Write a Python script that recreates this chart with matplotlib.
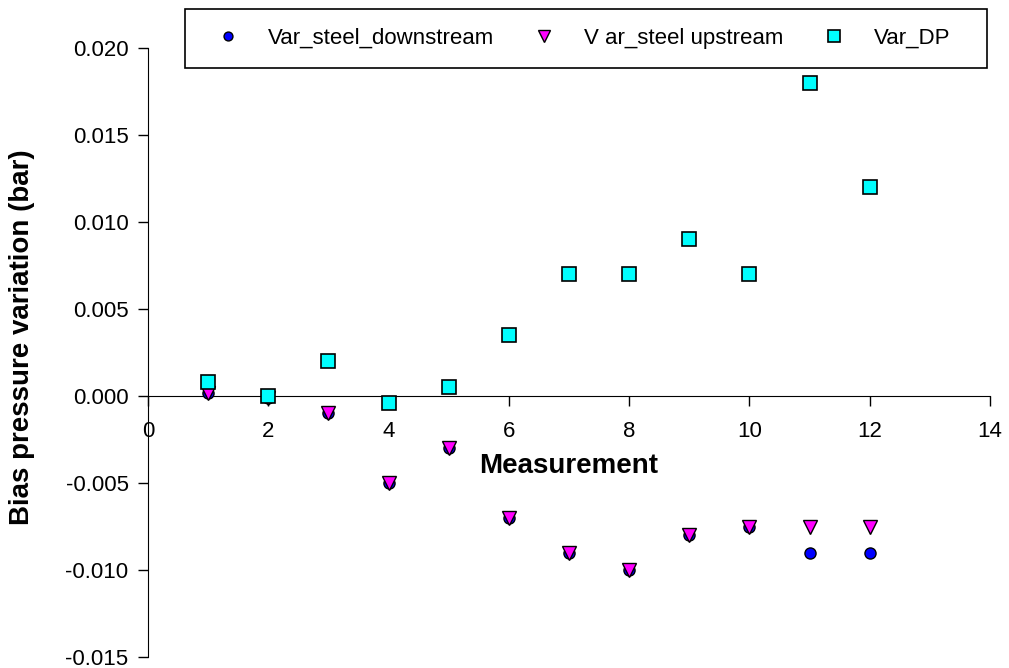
import numpy as np
import matplotlib.pyplot as plt
from matplotlib.patches import Rectangle

plt.rcParams['font.family'] = ['Liberation Sans', 'DejaVu Sans']

# measurement index
meas = np.arange(1, 13)

# bias pressure variation (bar)
var_down = [0.0002, -0.0001, -0.001, -0.005, -0.003, -0.007, -0.009, -0.010, -0.008, -0.0075, -0.009, -0.009]
var_up = [0.0002, -0.0001, -0.001, -0.005, -0.003, -0.007, -0.009, -0.010, -0.008, -0.0075, -0.0075, -0.0075]
var_dp = [0.0008, 0.0, 0.002, -0.0004, 0.0005, 0.0035, 0.007, 0.007, 0.009, 0.007, 0.018, 0.012]

W, H = 1009, 668
fig = plt.figure(figsize=(W/100, H/100), dpi=100)
ax = fig.add_axes([148/W, 11/H, 842/W, 609/H])

ax.plot(meas, var_down, 'o', color='#0000ff', mec='black', mew=1, ms=8, label='Var_steel_downstream', zorder=3)
ax.plot(meas, var_up, 'v', color='#ff00ff', mec='black', mew=1, ms=10, label='V ar_steel upstream', zorder=4)
ax.plot(meas, var_dp, 's', color='#00ffff', mec='black', mew=1.2, ms=10, label='Var_DP', zorder=5)

ax.set_xlim(0, 14)
ax.set_ylim(-0.015, 0.020)
ax.set_xticks(np.arange(0, 15, 2))
ax.set_yticks(np.arange(-0.015, 0.0201, 0.005))
ax.yaxis.set_major_formatter(plt.FuncFormatter(lambda v, p: '%.3f' % v))

ax.spines['top'].set_visible(False)
ax.spines['right'].set_visible(False)
ax.spines['bottom'].set_position(('data', 0))
ax.tick_params(axis='both', direction='out', length=7, labelsize=16, width=1)
ax.tick_params(axis='x', pad=11)
ax.tick_params(axis='y', pad=7)

ax.set_ylabel('Bias pressure variation (bar)', fontsize=20, fontweight='bold')
ax.yaxis.set_label_coords(-0.134, 0.525)
ax.text(7, -0.0040, 'Measurement', fontsize=20, fontweight='bold', ha='center', va='center')

# legend box spans past the plot area
fig.patches.append(Rectangle((185/W, 1 - 68/H), 802/W, 59/H, transform=fig.transFigure,
                             facecolor='white', edgecolor='black', lw=1.2, zorder=10))
fig.legend(loc='center left', bbox_to_anchor=(217/W, 1 - 38.5/H),
           ncol=3, fontsize=16, frameon=False, borderpad=0, borderaxespad=0,
           handlelength=1.0, handletextpad=1.3, columnspacing=1.75,
           markerscale=0.8).set_zorder(11)

plt.savefig('out.png')
plt.close()
